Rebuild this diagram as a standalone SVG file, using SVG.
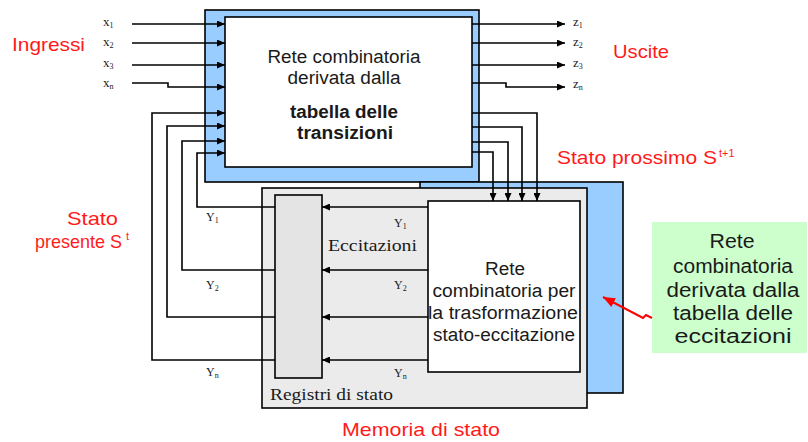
<svg xmlns="http://www.w3.org/2000/svg" width="808" height="442" viewBox="0 0 808 442">
<style>
.box{stroke:#000;stroke-width:1.6}
.blue{fill:#99ccff}
.white{fill:#fff}
.gray{fill:#ebebeb}
.reg{fill:#e4e4e4}
.green{fill:#ccffcc;stroke:none}
.sans{font-family:'Liberation Sans',Arial,sans-serif;fill:#1a1a1a}
.red{font-family:'Liberation Sans',Arial,sans-serif;fill:#ff1a1a;font-size:19px}
.sup{font-family:'Liberation Sans',Arial,sans-serif;fill:#ff1a1a;font-size:11px}
.serif{font-family:'Liberation Serif','Times New Roman',serif;fill:#1a1a1a}
.wire{fill:none;stroke:#000;stroke-width:1.6}
</style>
<defs>
<marker id="ah" markerUnits="userSpaceOnUse" markerWidth="8" markerHeight="7" refX="8" refY="3.5" orient="auto">
<path d="M0,0 L8,3.5 L0,7 z" fill="#000"/>
</marker>
<marker id="rah" markerUnits="userSpaceOnUse" markerWidth="12" markerHeight="10" refX="12" refY="5" orient="auto">
<path d="M0,0 L12,5 L0,10 z" fill="#ff0000"/>
</marker>
</defs>

<g id="rete-transizioni">
<rect class="box blue" x="205" y="10" width="274" height="172"/>
<rect class="box white" x="225" y="17" width="247" height="150"/>
<text class="sans" font-size="18" text-anchor="middle" x="344" y="63" textLength="153" lengthAdjust="spacingAndGlyphs">Rete combinatoria</text>
<text class="sans" font-size="18" text-anchor="middle" x="344" y="84" textLength="113" lengthAdjust="spacingAndGlyphs">derivata dalla</text>
<text class="sans" font-size="18" font-weight="bold" text-anchor="middle" x="344" y="118" textLength="108" lengthAdjust="spacingAndGlyphs">tabella delle</text>
<text class="sans" font-size="18" font-weight="bold" text-anchor="middle" x="345" y="139" textLength="96" lengthAdjust="spacingAndGlyphs">transizioni</text>
</g>

<g id="memoria">
<rect class="box blue" x="420" y="182" width="203" height="211"/>
<rect class="box gray" x="262" y="188" width="325" height="220"/>
</g>

<g id="registri">
<rect class="box reg" x="275" y="195" width="47" height="183"/>
<text class="serif" font-size="17" x="270" y="400" textLength="123" lengthAdjust="spacingAndGlyphs">Registri di stato</text>
</g>

<g id="rete-eccitazione">
<rect class="box white" x="428" y="201" width="152" height="171"/>
<text class="sans" font-size="18" text-anchor="middle" x="505" y="275" textLength="40" lengthAdjust="spacingAndGlyphs">Rete</text>
<text class="sans" font-size="18" text-anchor="middle" x="504" y="297" textLength="143" lengthAdjust="spacingAndGlyphs">combinatoria per</text>
<text class="sans" font-size="18" text-anchor="middle" x="503" y="319" textLength="150" lengthAdjust="spacingAndGlyphs">la trasformazione</text>
<text class="sans" font-size="18" text-anchor="middle" x="504" y="341" textLength="142" lengthAdjust="spacingAndGlyphs">stato-eccitazione</text>
</g>

<g id="nota-eccitazioni">
<rect class="green" x="652" y="222" width="155" height="131"/>
<text class="sans" font-size="20" text-anchor="middle" x="732" y="248" textLength="45" lengthAdjust="spacingAndGlyphs">Rete</text>
<text class="sans" font-size="20" text-anchor="middle" x="733" y="273" textLength="120" lengthAdjust="spacingAndGlyphs">combinatoria</text>
<text class="sans" font-size="20" text-anchor="middle" x="733" y="297" textLength="133" lengthAdjust="spacingAndGlyphs">derivata dalla</text>
<text class="sans" font-size="20" text-anchor="middle" x="733" y="320" textLength="120" lengthAdjust="spacingAndGlyphs">tabella delle</text>
<text class="sans" font-size="20" text-anchor="middle" x="733" y="343" textLength="117" lengthAdjust="spacingAndGlyphs">eccitazioni</text>
</g>

<g id="connettori">
<path class="wire" marker-end="url(#ah)" d="M132,24 H225"/>
<path class="wire" marker-end="url(#ah)" d="M132,43 H225"/>
<path class="wire" marker-end="url(#ah)" d="M132,65 H225"/>
<path class="wire" marker-end="url(#ah)" d="M132,83 H168 V87 H225"/>
<path class="wire" marker-end="url(#ah)" d="M472,24 H565"/>
<path class="wire" marker-end="url(#ah)" d="M472,43 H565"/>
<path class="wire" marker-end="url(#ah)" d="M472,65 H565"/>
<path class="wire" marker-end="url(#ah)" d="M472,83 H506 V87 H565"/>
<path class="wire" marker-end="url(#ah)" d="M275,207 H197 V153 H225"/>
<path class="wire" marker-end="url(#ah)" d="M275,270 H182 V141 H225"/>
<path class="wire" marker-end="url(#ah)" d="M275,317 H167 V126 H225"/>
<path class="wire" marker-end="url(#ah)" d="M275,360 H152 V113 H225"/>
<path class="wire" marker-end="url(#ah)" d="M472,113 H537 V201"/>
<path class="wire" marker-end="url(#ah)" d="M472,127 H522 V201"/>
<path class="wire" marker-end="url(#ah)" d="M472,142 H508 V201"/>
<path class="wire" marker-end="url(#ah)" d="M472,152 H493 V201"/>
<path class="wire" marker-end="url(#ah)" d="M428,207 H322"/>
<path class="wire" marker-end="url(#ah)" d="M428,270 H322"/>
<path class="wire" marker-end="url(#ah)" d="M428,317 H322"/>
<path class="wire" marker-end="url(#ah)" d="M428,360 H322"/>
<path fill="none" stroke="#ff0000" stroke-width="2" marker-end="url(#rah)" d="M652,318 L646,315 L643,318 L603,297"/>
</g>

<g id="etichette">
<text class="serif" font-size="13" x="103" y="26">x<tspan font-size="8" dy="2">1</tspan></text>
<text class="serif" font-size="13" x="103" y="46">x<tspan font-size="8" dy="2">2</tspan></text>
<text class="serif" font-size="13" x="103" y="67">x<tspan font-size="8" dy="2">3</tspan></text>
<text class="serif" font-size="13" x="103" y="87">x<tspan font-size="8" dy="2">n</tspan></text>
<text class="serif" font-size="13" x="573" y="26">z<tspan font-size="8" dy="2">1</tspan></text>
<text class="serif" font-size="13" x="573" y="46">z<tspan font-size="8" dy="2">2</tspan></text>
<text class="serif" font-size="13" x="573" y="67">z<tspan font-size="8" dy="2">3</tspan></text>
<text class="serif" font-size="13" x="573" y="88">z<tspan font-size="8" dy="2">n</tspan></text>
<text class="serif" font-size="12" x="206" y="221">Y<tspan font-size="8" dy="2">1</tspan></text>
<text class="serif" font-size="12" x="394" y="227">Y<tspan font-size="8" dy="2">1</tspan></text>
<text class="serif" font-size="12" x="206" y="289">Y<tspan font-size="8" dy="2">2</tspan></text>
<text class="serif" font-size="12" x="394" y="289">Y<tspan font-size="8" dy="2">2</tspan></text>
<text class="serif" font-size="12" x="206" y="376">Y<tspan font-size="8" dy="2">n</tspan></text>
<text class="serif" font-size="12" x="394" y="377">Y<tspan font-size="8" dy="2">n</tspan></text>
<text class="serif" font-size="17" x="328" y="251" textLength="89" lengthAdjust="spacingAndGlyphs">Eccitazioni</text>
<text class="red" x="12" y="51" textLength="73" lengthAdjust="spacingAndGlyphs">Ingressi</text>
<text class="red" x="613" y="58" textLength="56" lengthAdjust="spacingAndGlyphs">Uscite</text>
<text class="red" x="557" y="164" textLength="160" lengthAdjust="spacingAndGlyphs">Stato prossimo S</text>
<text class="sup" x="719" y="157">t+1</text>
<text class="red" x="67" y="225" textLength="51" lengthAdjust="spacingAndGlyphs">Stato</text>
<text class="red" x="35" y="248" textLength="87" lengthAdjust="spacingAndGlyphs">presente S</text>
<text class="sup" x="126" y="240">t</text>
<text class="red" x="342" y="436" textLength="158" lengthAdjust="spacingAndGlyphs">Memoria di stato</text>
</g>
</svg>
